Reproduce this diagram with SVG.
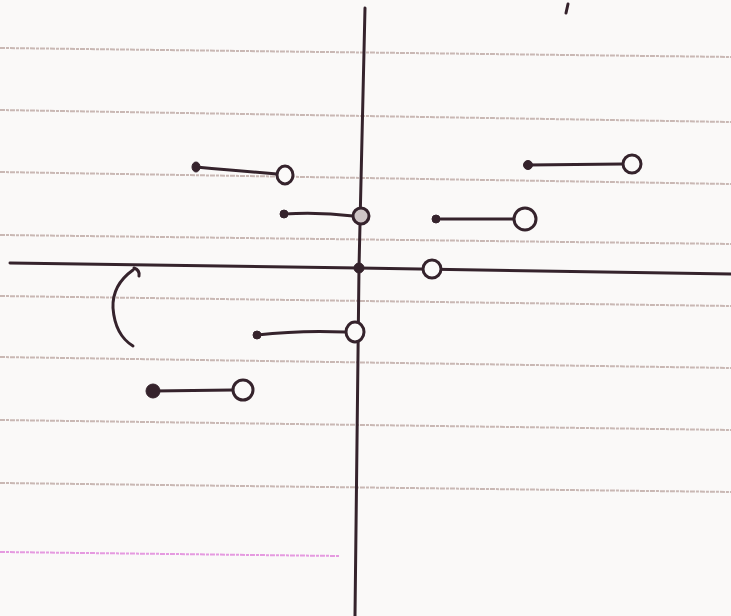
<svg xmlns="http://www.w3.org/2000/svg" width="731" height="616" viewBox="0 0 731 616">
<style>
.rule{stroke:#c9b8b4;stroke-width:2;fill:none;stroke-dasharray:5 1 3 1}
.ink{stroke:#35232c;fill:none;stroke-linecap:round;stroke-linejoin:round}
.seg{stroke:#35232c;stroke-width:3;fill:none;stroke-linecap:round}
.open{stroke:#35232c;stroke-width:3;fill:#fbfaf9}
.dot{fill:#35232c;stroke:#35232c;stroke-width:1}
</style>
<rect width="731" height="616" fill="#faf9f8"/>
<g id="paper">
<path class="rule" d="M0 48 L731 57"/>
<path class="rule" d="M0 110 L731 122"/>
<path class="rule" d="M0 172 L731 184"/>
<path class="rule" d="M0 235 L731 244"/>
<path class="rule" d="M0 296 L731 306"/>
<path class="rule" d="M0 357 L731 368"/>
<path class="rule" d="M0 420 L731 430"/>
<path class="rule" d="M0 483 L731 492"/>
<path d="M0 552 L340 556" stroke="#e59ae0" stroke-width="2" fill="none" stroke-dasharray="5 1 3 1"/>
</g>
<g id="axes">
<path class="ink" stroke-width="3" d="M365 8 L359 268 L355 616"/>
<path class="ink" stroke-width="3" d="M10 263 L359 268 L731 274"/>
<path class="ink" stroke-width="3" d="M568 4 L566 13"/>
</g>
<g id="connectors">
<path class="seg" d="M196 167 Q240 171 277 174"/>
<path class="seg" d="M284 214 Q320 212 353 216"/>
<path class="seg" d="M528 165 L623 164"/>
<path class="seg" d="M436 219 L514 219"/>
<path class="seg" d="M257 335 Q300 330 345 332"/>
<path class="seg" d="M153 391 L233 390"/>
<path class="ink" stroke-width="3" d="M134 268 Q140 270 139 276 M133 270 Q112 285 113 308 Q115 335 133 346"/>
</g>
<g id="p1"><ellipse class="dot" cx="196" cy="167" rx="4" ry="5"/><ellipse class="open" cx="285" cy="175" rx="8" ry="9"/></g>
<g id="p2"><circle class="dot" cx="284" cy="214" r="4"/><circle class="open" cx="361" cy="216" r="8" style="fill:#cfc5c6"/></g>
<g id="p3"><circle class="dot" cx="528" cy="165" r="4.5"/><circle class="open" cx="632" cy="164" r="9"/></g>
<g id="p4"><circle class="dot" cx="436" cy="219" r="4"/><circle class="open" cx="525" cy="219" r="11"/></g>
<g id="p5"><circle class="dot" cx="359" cy="268" r="5"/><circle class="open" cx="432" cy="269" r="9"/></g>
<g id="p6"><circle class="dot" cx="257" cy="335" r="4"/><ellipse class="open" cx="355" cy="332" rx="9" ry="10"/></g>
<g id="p7"><circle class="dot" cx="153" cy="391" r="7"/><circle class="open" cx="243" cy="390" r="10"/></g>
</svg>
